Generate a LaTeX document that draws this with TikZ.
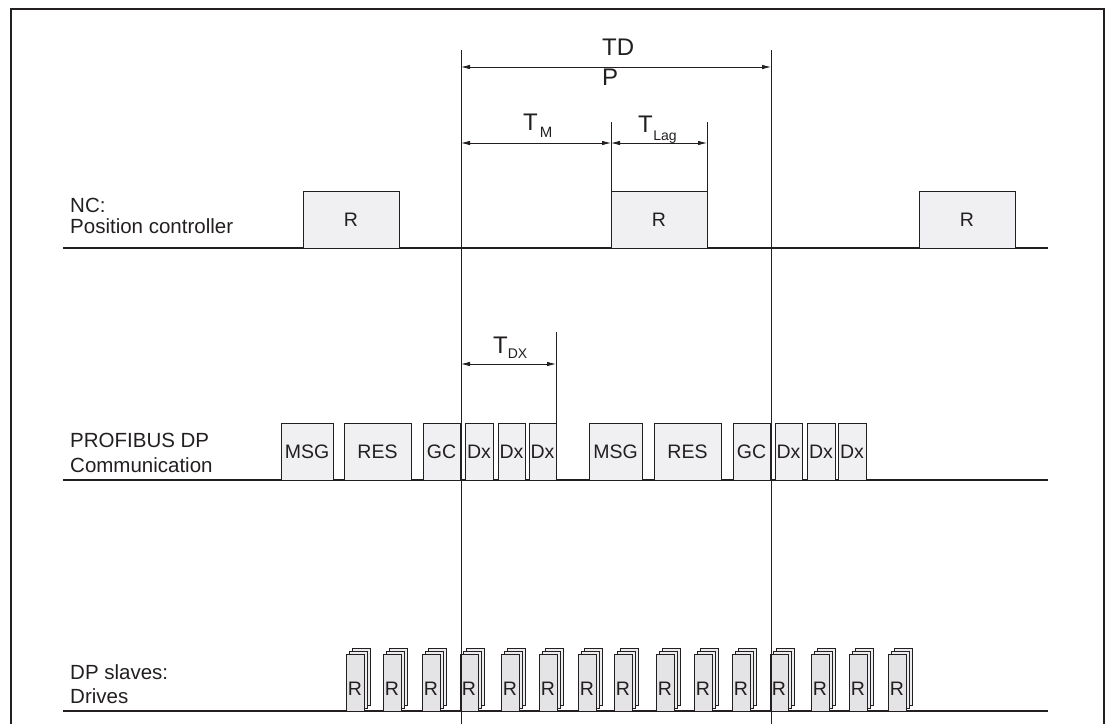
\documentclass[tikz,border=0pt]{standalone}
\usepackage{fontspec}
\setmainfont{Liberation Sans}
\usetikzlibrary{arrows.meta}
\definecolor{ink}{HTML}{231F20}
\definecolor{boxfill}{HTML}{F0F0F2}
\definecolor{slavefill}{HTML}{E4E4E6}
\definecolor{backfill}{HTML}{ECECEE}
\begin{document}
\begin{tikzpicture}[x=1pt,y=-1pt,
  every node/.style={text=ink},
  lbl/.style={font=\fontsize{20.5}{25}\selectfont, align=left, anchor=base west, inner sep=0},
  blk/.style={draw=ink, line width=0.9pt, fill=boxfill, anchor=south west, inner sep=0, outer sep=0,
              minimum height=57pt, font=\fontsize{19.5}{19.5}\selectfont},
  slave/.style={draw=ink, line width=0.9pt, fill=slavefill, anchor=south west, inner sep=0, outer sep=0,
              minimum height=57pt, minimum width=18pt, font=\fontsize{19.5}{19.5}\selectfont},
  backcard/.style={draw=ink, line width=0.9pt, fill=backfill},
  timeline/.style={draw=ink, line width=1.1pt},
  vline/.style={draw=ink, line width=0.9pt},
  tick/.style={draw=ink, line width=0.9pt},
  dim/.style={draw=ink, line width=0.8pt, {Latex[length=9pt,width=4.5pt]}-{Latex[length=9pt,width=4.5pt]}},
  sym/.style={anchor=base west, inner sep=0, font=\fontsize{24}{24}\selectfont},
  frame/.style={draw=ink, line width=2pt}
]
\useasboundingbox (0,0) rectangle (1109,724);

% frame (open at the bottom)
\draw[frame] (11,724) -- (11,9) -- (1104,9) -- (1104,724);

% row labels (base anchor = baseline of the last line)
\node[lbl, font=\fontsize{20.5}{21}\selectfont] (lnc) at (70,233) {NC:\\Position controller};
\node[lbl] (lpb) at (70,472) {PROFIBUS DP\\Communication};
\node[lbl, font=\fontsize{20.5}{24}\selectfont] (lsl) at (70,703) {DP slaves:\\Drives};

% timelines
\draw[timeline] (63,248) -- (1048,248);
\draw[timeline] (63,480) -- (1048,480);
\draw[timeline] (63,711) -- (1048,711);

% NC boxes
\node[blk, minimum width=96pt] (nc1) at (303,248) {R};
\node[blk, minimum width=96pt] (nc2) at (611,248) {R};
\node[blk, minimum width=96pt] (nc3) at (919,248) {R};

% PROFIBUS boxes, first cycle
\node[blk, minimum width=52pt] (msg1) at (281,480) {MSG};
\node[blk, minimum width=67pt] (res1) at (344,480) {RES};
\node[blk, minimum width=37pt] (gc1) at (423,480) {GC};
\node[blk, minimum width=28pt] (dxa1) at (465,480) {Dx};
\node[blk, minimum width=27pt] (dxa2) at (498,480) {Dx};
\node[blk, minimum width=27pt] (dxa3) at (529,480) {Dx};
% second cycle
\node[blk, minimum width=53pt] (msg2) at (589,480) {MSG};
\node[blk, minimum width=67pt] (res2) at (654,480) {RES};
\node[blk, minimum width=37pt] (gc2) at (733,480) {GC};
\node[blk, minimum width=27pt] (dxb1) at (775,480) {Dx};
\node[blk, minimum width=28pt] (dxb2) at (807,480) {Dx};
\node[blk, minimum width=28pt] (dxb3) at (838,480) {Dx};

% DP slaves
\foreach \x [count=\i] in {346,383,422,460,501,539,578,614,656,694,732,770,811,849,888} {
  \draw[backcard] (\x+6,705) rectangle ++(18,-57);
  \draw[backcard] (\x+3,708) rectangle ++(18,-57);
  \node[slave] (s\i) at (\x,711) {\raisebox{-13pt}[0pt][0pt]{R}};
}

% cycle boundary lines
\coordinate (v1t) at (461,50);
\coordinate (v1b) at (461,724);
\coordinate (v2t) at (771,50);
\coordinate (v2b) at (771,724);
\draw[vline] (v1t) -- (v1b);
\draw[vline] (v2t) -- (v2b);

% TDP
\coordinate (tdpL) at (461,67);
\coordinate (tdpR) at (771,67);
\draw[dim] (tdpL) -- (tdpR);
\node[anchor=base west, inner sep=0, align=left, font=\fontsize{24}{30}\selectfont] (tdp) at (602,85) {TD\\P};

% T_M and T_Lag
\coordinate (mtick) at (611,122);
\coordinate (ltick) at (707,122);
\draw[tick] (mtick) -- (nc2.north west);
\draw[tick] (ltick) -- (nc2.north east);
\coordinate (tmL) at (461,143);
\coordinate (tmR) at (611,143);
\coordinate (tlR) at (707,143);
\draw[dim] (tmL) -- (tmR);
\draw[dim] (tmR) -- (tlR);
\node[sym] (tm) at (523,130) {T\hspace{2pt}\raisebox{-7pt}{\fontsize{15}{15}\selectfont M}};
\node[sym] (tlag) at (638,132) {T\hspace{0.5pt}\raisebox{-8pt}{\fontsize{14}{14}\selectfont Lag}};

% T_DX
\coordinate (dxtick) at (556,332);
\draw[tick] (dxtick) -- (dxa3.north east);
\coordinate (tdxL) at (461,364);
\coordinate (tdxR) at (556,364);
\draw[dim] (tdxL) -- (tdxR);
\node[sym] (tdx) at (493,353) {T\raisebox{-5pt}{\fontsize{14}{14}\selectfont DX}};
\end{tikzpicture}
\end{document}
